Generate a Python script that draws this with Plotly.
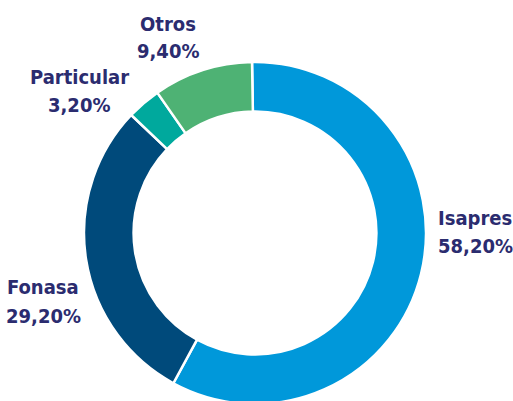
import plotly.graph_objects as go

labels = ["Isapres", "Fonasa", "Particular", "Otros"]
values = [58.2, 29.2, 3.2, 9.4]
colors = ["#0098DA", "#004A7B", "#00A99D", "#4EB274"]
value_text = ["58,20%", "29,20%", "3,20%", "9,40%"]

W, H = 513, 404
fig = go.Figure(go.Pie(
    labels=labels, values=values, sort=False, direction="clockwise", rotation=-1,
    hole=0.71, textinfo="none", hoverinfo="label+percent",
    marker=dict(colors=colors, line=dict(color="white", width=2.5)),
    domain=dict(x=[(255 - 171) / W, (255 + 171) / W], y=[0, 342 / H]),
    showlegend=False,
))

label_pos = {  # pixel centers (x, y_name, y_value)
    "Isapres": (475, 218, 246),
    "Fonasa": (43, 287, 316),
    "Particular": (79, 77, 105),
    "Otros": (168, 24, 51),
}
font = dict(family="DejaVu Sans Condensed, Liberation Sans Narrow, sans-serif",
            size=20, color="#2B2C6F")
anns = []
for lab, vt in zip(labels, value_text):
    x, yn, yv = label_pos[lab]
    for txt, yy in ((lab, yn), (vt, yv)):
        anns.append(dict(x=x / W, y=1 - yy / H, xref="paper", yref="paper",
                         text=f"<b>{txt}</b>", showarrow=False, font=font,
                         xanchor="center", yanchor="middle"))

fig.update_layout(width=W, height=H, margin=dict(l=0, r=0, t=0, b=0),
                  paper_bgcolor="white", plot_bgcolor="white", annotations=anns)
fig.write_html("out.html", config={"displayModeBar": False},
               post_script="document.body.style.margin='0';document.body.style.overflow='hidden';document.documentElement.style.overflow='hidden';")
